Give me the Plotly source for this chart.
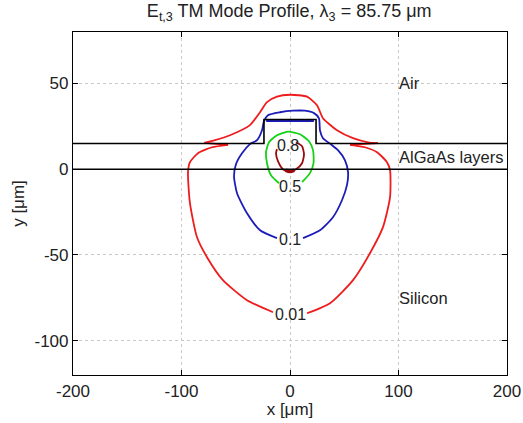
import plotly.graph_objects as go

# ---- contour outlines (x, y in micrometres) ----
levels = ["0.01", "0.1", "0.5", "0.8"]

c001_x = [-15.7, -39.6, -61.8, -76.5, -85.7, -92.2, -94.0, -92.2, -84.8, -71.9, -57.1,
          -79.0, -69.1, -55.3, -36.9, -27.6, -21.2, -12.0, 0.0, 15.7, 24.9, 30.4,
          43.3, 58.1, 71.9, 81.0, 55.3, 69.1, 80.2, 89.4, 92.2, 92.2, 85.7, 73.7,
          58.1, 36.9, 15.7]
c001_y = [-83.4, -76.4, -64.7, -51.3, -39.7, -19.8, -1.7, 4.1, 9.3, 12.8, 14.2,
          15.3, 16.9, 19.8, 25.7, 33.2, 39.1, 42.3, 43.4, 42.3, 37.3, 29.7,
          22.7, 18.1, 15.7, 15.2, 14.2, 12.8, 9.9, 4.1, -0.6, -16.3, -33.8, -49.0,
          -64.7, -78.1, -84.0]
# indices where the 0.01 outline turns sharply (spike tips at the AlGaAs/air line)
c001_breaks = [10, 11, 25, 26]

c01_x = [-12.0, -27.6, -39.6, -48.8, -51.6, -49.8, -44.2, -36.9, -30.4, -25.8, -24.0,
         -20.3, -9.2, 2.8, 13.8, 22.1, 26.7, 27.6, 30.4, 36.9, 44.2, 50.7, 53.5, 52.5,
         47.9, 39.6, 27.6, 12.0]
c01_y = [-40.2, -35.6, -25.7, -14.0, -4.1, 2.9, 9.3, 14.6, 16.9, 22.7, 28.0,
         31.5, 33.2, 34.1, 34.1, 32.7, 29.7, 22.7, 18.1, 14.9, 11.1, 5.2, -1.7, -9.3,
         -18.1, -28.0, -35.6, -40.2]
c01_top_x = [-22.0, 22.0]
c01_top_y = [28.2, 28.2]

c05_x = [-10.1, -17.5, -21.2, -22.1, -19.4, -12.0, -1.8, 9.2, 17.5, 21.2, 21.7, 18.4, 11.1]
c05_y = [-8.2, -3.5, 3.5, 9.9, 15.7, 19.8, 21.9, 20.4, 16.3, 11.1, 3.5, -2.3, -7.6]

c08_x = [5.5, 11.1, 12.9, 11.1, 5.5, -0.9, -6.5, -11.1, -12.9, -12.0]
c08_y = [15.7, 13.4, 8.7, 3.5, 0.0, -1.5, 0.0, 4.7, 9.3, 11.7]
c08_spot_x = [-4.0, 0.0, 4.0]
c08_spot_y = [-0.6, -1.3, -0.6]

# contour label positions
label_x = [0.0, 0.0, 0.0, -1.5]
label_y = [-84.5, -41.0, -10.0, 13.6]

# ---- waveguide structure ----
top_layer_x = [-200, -24, -24, 24, 24, 200]
top_layer_y = [15, 15, 29, 29, 15, 15]
bottom_layer_x = [-200, 200]
bottom_layer_y = [0, 0]

region_names = ["Air", "AlGaAs layers", "Silicon"]
region_x = [99, 99, 99]
region_y = [50, 7, -75]

x_ticks = [-200, -100, 0, 100, 200]
x_ticktext = ["-200", "-100", "0", "100", "200"]
y_ticks = [-100, -50, 0, 50]
y_ticktext = ["-100", "-50", "0", "50"]

FONT = "Liberation Sans, Arial"

fig = go.Figure()

def line(x, y, color, width=1.8, shape="spline"):
    fig.add_trace(go.Scatter(x=x, y=y, mode="lines",
                             line=dict(color=color, width=width, shape=shape, smoothing=0.6),
                             hoverinfo="skip", showlegend=False))

# 0.01 outline drawn piecewise so the spikes stay sharp
cuts = [0] + c001_breaks + [len(c001_x) - 1]
for a, b in zip(cuts[:-1], cuts[1:]):
    line(c001_x[a:b + 1], c001_y[a:b + 1], "#ee1c1c")
line(c01_x, c01_y, "#1c1cb8")
line(c01_top_x, c01_top_y, "#1c1cb8", 2.5, "linear")
line(c05_x, c05_y, "#14d214")
line(c08_x, c08_y, "#9a0a0a")
line(c08_spot_x, c08_spot_y, "#9a0a0a", 3.5)

for lx, ly in [(top_layer_x, top_layer_y), (bottom_layer_x, bottom_layer_y)]:
    fig.add_trace(go.Scatter(x=lx, y=ly, mode="lines", line=dict(color="black", width=1.6),
                             hoverinfo="skip", showlegend=False))

for t, x, y in zip(levels, label_x, label_y):
    fig.add_annotation(x=x, y=y, text=t, showarrow=False,
                       font=dict(family=FONT, size=16, color="#222"))

for t, x, y in zip(region_names, region_x, region_y):
    fig.add_annotation(x=x, y=y, text=t, showarrow=False, xanchor="left",
                       font=dict(family=FONT, size=16.5, color="#222"))

axis_common = dict(showline=True, linecolor="black", linewidth=1.2, mirror="ticks",
                   ticks="inside", ticklen=5, tickcolor="black", automargin=False,
                   showgrid=True, gridcolor="#c8c8c8", griddash="dot", gridwidth=1,
                   zeroline=False,
                   tickfont=dict(family=FONT, size=17, color="#222"))

fig.update_layout(
    width=523, height=423,
    margin=dict(l=73, r=16, t=32, b=48),
    paper_bgcolor="white", plot_bgcolor="white",
    title=dict(text="E<sub>t,3</sub> TM Mode Profile, λ<sub>3</sub> = 85.75 μm",
               x=0.553, xanchor="center", y=0.99, yanchor="top",
               font=dict(family=FONT, size=18, color="#222")),
    xaxis=dict(range=[-200, 200], tickvals=x_ticks, ticktext=x_ticktext,
               title=dict(text="x [μm]", standoff=0,
                          font=dict(family=FONT, size=17, color="#222")),
               **axis_common),
    yaxis=dict(range=[-120, 80], tickvals=y_ticks, ticktext=y_ticktext,
               title=dict(text="y [μm]", standoff=5,
                          font=dict(family=FONT, size=17, color="#222")),
               **axis_common),
)

fig.write_html("out.html", config={"displayModeBar": False},
               post_script="document.body.style.margin='0';document.body.style.overflow='hidden';")
